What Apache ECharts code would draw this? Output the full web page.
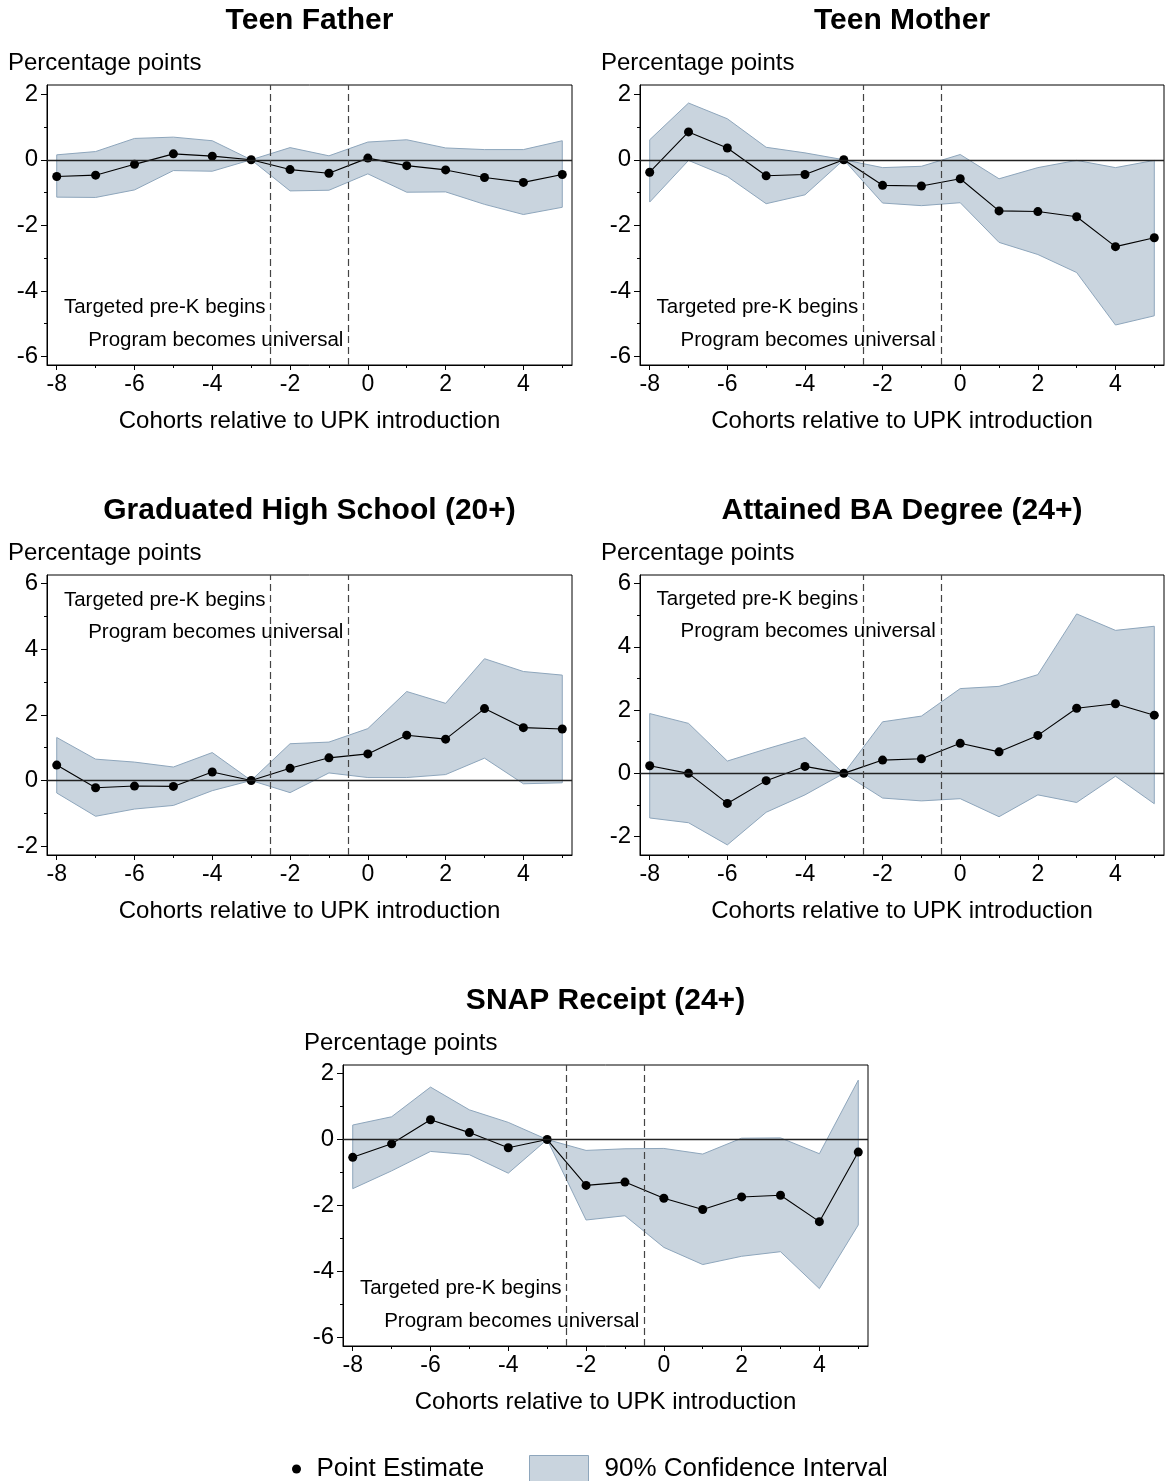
<!DOCTYPE html>
<html>
<head>
<meta charset="utf-8">
<title>Effects of UPK by cohort</title>
<script src="https://cdn.jsdelivr.net/npm/echarts@6/dist/echarts.min.js"></script>
<style>
  html, body { margin: 0; padding: 0; background: #ffffff; }
  #chart { width: 1166px; height: 1481px; }
</style>
</head>
<body>
<div id="chart"></div>
<script>
// Cohorts relative to UPK introduction
const cohorts = [-8, -7, -6, -5, -4, -3, -2, -1, 0, 1, 2, 3, 4, 5];

// Teen Father
const teenFatherEst = [-0.51, -0.47, -0.14, 0.18, 0.11, 0, -0.30, -0.41, 0.05, -0.18, -0.31, -0.54, -0.69, -0.45];
const teenFatherLo  = [-1.14, -1.15, -0.92, -0.33, -0.35, 0, -0.95, -0.93, -0.43, -0.99, -0.98, -1.36, -1.67, -1.45];
const teenFatherHi  = [0.15, 0.25, 0.65, 0.69, 0.58, 0, 0.37, 0.12, 0.54, 0.61, 0.36, 0.31, 0.31, 0.58];

// Teen Mother
const teenMotherEst = [-0.38, 0.85, 0.36, -0.49, -0.45, 0, -0.78, -0.80, -0.58, -1.56, -1.58, -1.74, -2.65, -2.38];
const teenMotherLo  = [-1.29, -0.02, -0.51, -1.34, -1.07, 0, -1.32, -1.40, -1.31, -2.52, -2.89, -3.44, -5.04, -4.76];
const teenMotherHi  = [0.61, 1.73, 1.25, 0.38, 0.21, 0, -0.24, -0.20, 0.16, -0.58, -0.24, -0.02, -0.24, -0.02];

// Graduated High School (20+)
const highSchoolEst = [0.47, -0.22, -0.17, -0.18, 0.26, 0, 0.37, 0.69, 0.81, 1.38, 1.26, 2.19, 1.61, 1.57];
const highSchoolLo  = [-0.38, -1.09, -0.87, -0.76, -0.31, 0, -0.37, 0.23, 0.09, 0.09, 0.18, 0.68, -0.10, -0.07];
const highSchoolHi  = [1.31, 0.65, 0.56, 0.41, 0.85, 0, 1.12, 1.17, 1.58, 2.71, 2.35, 3.71, 3.32, 3.21];

// Attained BA Degree (24+)
const baDegreeEst = [0.24, 0.00, -0.95, -0.23, 0.22, 0, 0.42, 0.46, 0.95, 0.68, 1.20, 2.06, 2.20, 1.84];
const baDegreeLo  = [-1.41, -1.56, -2.26, -1.23, -0.68, 0, -0.78, -0.87, -0.80, -1.37, -0.68, -0.92, -0.09, -0.96];
const baDegreeHi  = [1.89, 1.58, 0.39, 0.77, 1.13, 0, 1.63, 1.81, 2.68, 2.75, 3.12, 5.04, 4.52, 4.65];

// SNAP Receipt (24+)
const snapEst = [-0.54, -0.13, 0.60, 0.21, -0.25, 0, -1.39, -1.29, -1.78, -2.12, -1.74, -1.69, -2.49, -0.38];
const snapLo  = [-1.49, -0.95, -0.36, -0.46, -1.02, 0, -2.44, -2.31, -3.27, -3.79, -3.54, -3.40, -4.52, -2.59];
const snapHi  = [0.44, 0.69, 1.59, 0.90, 0.52, 0, -0.33, -0.28, -0.27, -0.44, 0.04, 0.05, -0.43, 1.80];

const panelTitles = ['Teen Father', 'Teen Mother', 'Graduated High School (20+)', 'Attained BA Degree (24+)', 'SNAP Receipt (24+)'];
const estimates = [teenFatherEst, teenMotherEst, highSchoolEst, baDegreeEst, snapEst];
const lowerBounds = [teenFatherLo, teenMotherLo, highSchoolLo, baDegreeLo, snapLo];
const upperBounds = [teenFatherHi, teenMotherHi, highSchoolHi, baDegreeHi, snapHi];

// Axis ticks
const xLabelValues = [-8, -6, -4, -2, 0, 2, 4];
const xMinorValues = [-7, -5, -3, -1, 1, 3, 5];
const yLabelsNegative = [-6, -4, -2, 0, 2];
const yMinorNegative = [-5, -3, -1, 1];
const yLabelsPositive = [-2, 0, 2, 4, 6];
const yMinorPositive = [-1, 1, 3, 5];
const yLabelSets = [yLabelsNegative, yLabelsNegative, yLabelsPositive, yLabelsPositive, yLabelsNegative];
const yMinorSets = [yMinorNegative, yMinorNegative, yMinorPositive, yMinorPositive, yMinorNegative];
const yRanges = [[-6.26, 2.28], [-6.26, 2.28], [-2.27, 6.26], [-2.58, 6.27], [-6.26, 2.26]];
const xRange = [-8.25, 5.25];

// Policy milestones (vertical reference lines) and their notes
const eventCohorts = [-2.5, -0.5];
const eventNotes = ['Targeted pre-K begins', 'Program becomes universal'];
const noteLevels = [[-4.5, -5.5], [-4.5, -5.5], [5.5, 4.5], [5.5, 4.5], [-4.5, -5.5]];

const FONT = '"Liberation Sans", Arial, Helvetica, sans-serif';
const BAND_FILL = '#c9d4de';
const BAND_EDGE = '#8ea6bc';

// Plot rectangles: left, top, width, height
const gridRects = [
  [47, 85, 525, 280],
  [640, 85, 524, 280],
  [47, 575, 525, 280],
  [640, 575, 524, 280],
  [343, 1065, 525, 281]
];

// Confidence band drawn as one polygon: upper bounds left-to-right, then lower bounds back
function bandRenderer(lo, hi) {
  return function (params, api) {
    if (params.dataIndexInside !== 0) return null;
    const upper = cohorts.map(function (c, k) { return api.coord([c, hi[k]]); });
    const lower = cohorts.map(function (c, k) { return api.coord([c, lo[k]]); }).reverse();
    return {
      type: 'polygon',
      shape: { points: upper.concat(lower) },
      style: { fill: BAND_FILL, stroke: BAND_EDGE, lineWidth: 1 },
      silent: true
    };
  };
}

const grids = [], xAxes = [], yAxes = [], series = [], graphics = [];

gridRects.forEach(function (r, i) {
  grids.push({
    left: r[0], top: r[1], width: r[2], height: r[3],
    show: true, borderColor: '#000', borderWidth: 1, backgroundColor: 'transparent'
  });

  const cx = r[0] + r[2] / 2;
  graphics.push({
    type: 'text', x: cx, y: r[1] - 64,
    style: { text: panelTitles[i], font: 'bold 30px ' + FONT, fill: '#000', textAlign: 'center', textVerticalAlign: 'middle', align: 'center', verticalAlign: 'middle' }
  });
  graphics.push({
    type: 'text', x: r[0] - 39, y: r[1] - 22,
    style: { text: 'Percentage points', font: '24px ' + FONT, fill: '#000', textAlign: 'left', textVerticalAlign: 'middle', align: 'left', verticalAlign: 'middle' }
  });

  // main x axis with labelled (major) ticks
  xAxes.push({
    type: 'value', gridIndex: i, min: xRange[0], max: xRange[1],
    name: 'Cohorts relative to UPK introduction', nameLocation: 'middle', nameGap: 44,
    nameTextStyle: { fontFamily: FONT, fontSize: 24, color: '#000' },
    axisLine: { show: true, onZero: false, lineStyle: { color: '#000', width: 1 } },
    axisTick: { show: true, length: 5, customValues: xLabelValues, lineStyle: { color: '#000' } },
    axisLabel: { show: true, customValues: xLabelValues, margin: 8, fontFamily: FONT, fontSize: 23, color: '#000' },
    splitLine: { show: false }
  });
  // companion x axis carrying the minor ticks
  xAxes.push({
    type: 'value', gridIndex: i, min: xRange[0], max: xRange[1], position: 'bottom', offset: 0,
    axisLine: { show: false, onZero: false },
    axisTick: { show: true, length: 3, customValues: xMinorValues, lineStyle: { color: '#000' } },
    axisLabel: { show: false },
    splitLine: { show: false }
  });

  yAxes.push({
    type: 'value', gridIndex: i, min: yRanges[i][0], max: yRanges[i][1], position: 'left',
    axisLine: { show: true, onZero: false, lineStyle: { color: '#000', width: 1 } },
    axisTick: { show: true, length: 6, customValues: yLabelSets[i], lineStyle: { color: '#000' } },
    axisLabel: { show: true, customValues: yLabelSets[i], margin: 9, fontFamily: FONT, fontSize: 24, color: '#000' },
    splitLine: { show: false }
  });
  yAxes.push({
    type: 'value', gridIndex: i, min: yRanges[i][0], max: yRanges[i][1], position: 'left', offset: 0,
    axisLine: { show: false, onZero: false },
    axisTick: { show: true, length: 3, customValues: yMinorSets[i], lineStyle: { color: '#000' } },
    axisLabel: { show: false },
    splitLine: { show: false }
  });

  const xi = 2 * i, yi = 2 * i;
  const lo = lowerBounds[i], hi = upperBounds[i], est = estimates[i];

  // 90% confidence band
  series.push({
    type: 'custom', name: '90% Confidence Interval', xAxisIndex: xi, yAxisIndex: yi,
    data: cohorts.map(function (c, k) { return [c, lo[k], hi[k]]; }),
    encode: { x: 0, y: [1, 2] },
    renderItem: bandRenderer(lo, hi),
    itemStyle: { color: BAND_FILL },
    clip: true, silent: true, z: 1
  });

  // point estimates, with zero line and milestone lines
  series.push({
    type: 'line', name: 'Point Estimate', xAxisIndex: xi, yAxisIndex: yi,
    data: cohorts.map(function (c, k) { return [c, est[k]]; }),
    symbol: 'circle', symbolSize: 9, showSymbol: true,
    itemStyle: { color: '#000' }, lineStyle: { color: '#000', width: 1.1 }, z: 3,
    markLine: {
      silent: true, symbol: ['none', 'none'], label: { show: false },
      data: [
        { yAxis: 0, lineStyle: { color: '#222', width: 1.3, type: 'solid' } }
      ].concat(eventCohorts.map(function (c) {
        return { xAxis: c, lineStyle: { color: '#444', width: 1.2, type: [7, 4] } };
      }))
    }
  });

  // milestone notes, right-aligned against their lines
  series.push({
    type: 'scatter', name: 'notes-' + i, xAxisIndex: xi, yAxisIndex: yi,
    data: eventCohorts.map(function (c, k) { return { value: [c, noteLevels[i][k]], note: eventNotes[k] }; }),
    symbolSize: 0, silent: true, z: 4,
    itemStyle: { opacity: 1 },
    label: {
      show: true, position: 'left', distance: 5,
      fontFamily: FONT, fontSize: 20.5, color: '#000',
      formatter: function (p) { return p.data.note; }
    }
  });
});

const chart = echarts.init(document.getElementById('chart'), null, { renderer: 'canvas' });
chart.setOption({
  backgroundColor: '#ffffff',
  animation: false,
  textStyle: { fontFamily: FONT },
  grid: grids,
  xAxis: xAxes,
  yAxis: yAxes,
  series: series,
  graphic: graphics,
  legend: [
    {
      data: [{ name: 'Point Estimate', icon: 'circle', itemStyle: { color: '#000' } }],
      left: 292, top: 1456, padding: 0, itemWidth: 30, itemHeight: 9, selectedMode: false,
      textStyle: { fontFamily: FONT, fontSize: 26, color: '#000' }
    },
    {
      data: [{ name: '90% Confidence Interval', icon: 'rect', itemStyle: { color: BAND_FILL, borderColor: BAND_EDGE, borderWidth: 1 } }],
      left: 529, top: 1455, padding: 0, itemWidth: 59, itemHeight: 26, selectedMode: false,
      textStyle: { fontFamily: FONT, fontSize: 26, color: '#000', padding: [0, 0, 0, 11] }
    }
  ]
});
</script>
</body>
</html>
